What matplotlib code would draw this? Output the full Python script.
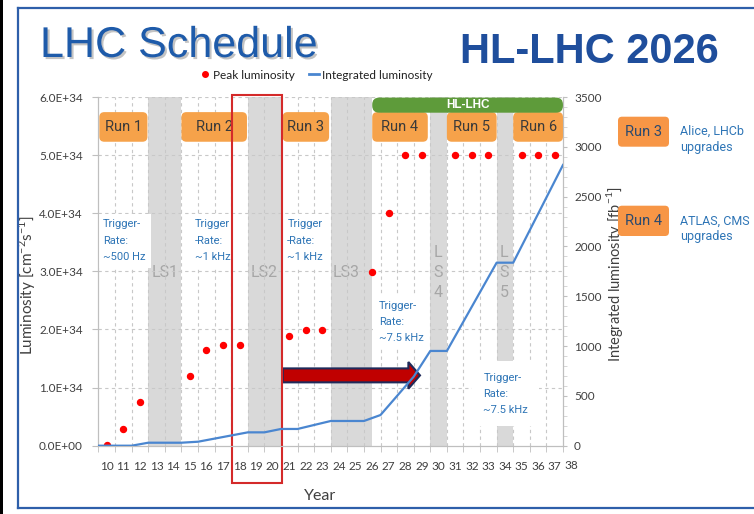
import numpy as np
import matplotlib.pyplot as plt
import matplotlib.patheffects as pe
from matplotlib.patches import FancyBboxPatch, Rectangle, FancyArrow
from matplotlib.lines import Line2D
from matplotlib.ticker import FuncFormatter, MultipleLocator

plt.rcParams['font.family'] = 'Lato'
plt.rcParams['mathtext.fontset'] = 'custom'
plt.rcParams['mathtext.rm'] = 'Lato'

# peak luminosity in units of 1e34 cm^-2 s^-1 (no dots in shutdown years)
peak_years = [10, 11, 12, 15, 16, 17, 18, 21, 22, 23, 26, 27, 28, 29, 31, 32, 33, 35, 36, 37]
peak_lumi = [0.02, 0.28, 0.76, 1.2, 1.64, 1.73, 1.73, 1.89, 1.99, 1.99,
             2.99, 4.0, 5.0, 5.0, 5.0, 5.0, 5.0, 5.0, 5.0, 5.0]

# integrated luminosity [fb^-1] at the year boundaries
int_x = [9.5, 11.5, 12.5, 14.5, 15.5, 18.5, 19.5, 20.5, 21.5, 23.5, 25.5,
         26.5, 27.5, 28.5, 29.5, 30.5, 33.5, 34.5, 37.5]
int_lumi = [0, 0, 30, 30, 40, 134, 134, 168, 168, 248, 248,
            308, 500, 693, 951, 951, 1837, 1837, 2818]

year_labels = list(range(10, 39))

# long shutdowns
ls_names = ["LS1", "LS2", "LS3", "L\nS\n4", "L\nS\n5"]
ls_start = [12.5, 18.5, 23.5, 29.5, 33.5]
ls_end = [14.5, 20.5, 26.0, 30.5, 34.5]
ls_text_x = [13.5, 19.5, 24.45, 29.95, 33.95]

# runs
run_names = ["Run 1", "Run 2", "Run 3", "Run 4", "Run 5", "Run 6"]
run_start = [9.55, 14.5, 20.6, 26.0, 30.5, 34.5]
run_end = [12.45, 18.45, 23.4, 29.35, 33.5, 37.5]

# trigger rate notes
trig_text = ["Trigger-\nRate:\n~500 Hz", "Trigger\n-Rate:\n~1 kHz", "Trigger\n-Rate:\n~1 kHz",
             "Trigger-\nRate:\n~7.5 kHz", "Trigger-\nRate:\n~7.5 kHz"]
trig_x = [9.78, 15.32, 20.88, 26.41, 32.7]
trig_y = [3.53, 3.53, 3.53, 2.13, 0.89]

orange = '#F6A24A'
blue_txt = '#2E75B6'
grey_txt = '#404040'

fig = plt.figure(figsize=(7.54, 5.14), dpi=100)
ax = fig.add_axes([0.12997, 0.13288, 0.61671, 0.67840])
ax.set_xlim(9.47, 37.5)
ax.set_ylim(0, 6)

# shutdown shading
for s, e in zip(ls_start, ls_end):
    ax.axvspan(s, e, color='#D9D9D9', zorder=1, lw=0)
for name, x in zip(ls_names, ls_text_x):
    ax.text(x, 2.98, name, ha='center', va='center', color='#A6A6A6',
            fontsize=11.5, family='Roboto', linespacing=1.42, zorder=2)

# grid
for gx in np.arange(10.5, 37.5, 1.0):
    ax.axvline(gx, color='#C8C8C8', lw=0.8, ls=(0, (3, 3)), zorder=2)
for gy in range(1, 7):
    ax.axhline(gy, color='#C8C8C8', lw=0.8, ls=(0, (3, 3)), zorder=2)

# peak luminosity dots
ax.plot(peak_years, peak_lumi, 'o', color='#FF0000', ms=4.3, ls='none', zorder=5)

# run boxes
asp = 16.59 / 58.1
for name, s, e in zip(run_names, run_start, run_end):
    ax.add_patch(FancyBboxPatch((s, 5.23), e - s, 0.51,
                                boxstyle='round,pad=0,rounding_size=0.3',
                                mutation_aspect=asp, fc=orange, ec='none', zorder=4))
    ax.text((s + e) / 2, 5.485, name, ha='center', va='center', fontsize=10.5,
            family='Roboto', color='#3A3A3A', zorder=5)

# HL-LHC bar
ax.add_patch(FancyBboxPatch((26.0, 5.73), 11.5, 0.26,
                            boxstyle='round,pad=0,rounding_size=0.42',
                            mutation_aspect=asp, fc='#5E9B3A', ec='none', zorder=4,
                            clip_on=False))
ax.text(31.78, 5.86, "HL-LHC", ha='center', va='center', color='white',
        fontsize=8.5, fontweight='bold', family='Liberation Sans', zorder=5)

# trigger rate notes
for i, (t, x, y) in enumerate(zip(trig_text, trig_x, trig_y)):
    ax.text(x, y, t, ha='left', va='center', color=blue_txt, fontsize=8,
            family='Roboto', linespacing=1.8, zorder=4,
            bbox=dict(fc='white', ec='none', pad=8 if i == 4 else 4))

# arrow
ax.add_patch(FancyArrow(20.61, 1.21, 8.27, 0, width=0.24, head_width=0.46,
                        head_length=0.7, length_includes_head=True,
                        fc='#C00000', ec='#1F2A5A', lw=1.5, zorder=6))

# red frame around LS2
ax.add_patch(Rectangle((17.53, -0.65), 20.58 - 17.53, 6.68, fill=False,
                       ec='#D42A2A', lw=1.5, clip_on=False, zorder=7))

# axes styling
ax.set_xticks(year_labels[:-1])
ax.set_xticklabels([str(y) for y in year_labels[:-1]])
ax.xaxis.set_minor_locator(MultipleLocator(1.0, offset=0.5))
ax.tick_params(axis='x', which='major', length=0, pad=11, labelsize=8.5, labelcolor=grey_txt)
ax.tick_params(axis='x', which='minor', length=4, color='#BFBFBF')
ax.text(year_labels[-1], -0.34, str(year_labels[-1]), ha='center', va='center',
        fontsize=8.5, color=grey_txt, clip_on=False)
ax.set_yticks(range(0, 7))
ax.yaxis.set_major_formatter(FuncFormatter(
    lambda v, p: "0.0E+00" if v == 0 else f"{v:.1f}E+34"))
ax.tick_params(axis='y', length=4, pad=7, labelsize=8.5, labelcolor=grey_txt, color='#BFBFBF')
ax.spines['top'].set_visible(False)
for sp in ['left', 'bottom', 'right']:
    ax.spines[sp].set_color('#BFBFBF')

ax.set_ylabel("Luminosity [cm$^{-2}$s$^{-1}$]", fontsize=11, color=grey_txt)
ax.yaxis.set_label_coords(-0.128, 0.461)
ax.set_xlabel("Year", fontsize=11.5, color=grey_txt)
ax.xaxis.set_label_coords(0.477, -0.125)

# integrated luminosity
ax2 = ax.twinx()
ax2.set_ylim(0, 3500)
ax2.plot(int_x, int_lumi, color='#4A86D0', lw=1.6, zorder=5)
ax2.set_yticks(range(0, 3501, 500))
ax2.yaxis.set_minor_locator(MultipleLocator(100))
ax2.tick_params(axis='y', which='major', length=3, pad=5, labelsize=8.5,
                labelcolor=grey_txt, color='#BFBFBF')
ax2.tick_params(axis='y', which='minor', length=3, color='#D0D0D0')
ax2.spines['top'].set_visible(False)
for sp in ['left', 'bottom', 'right']:
    ax2.spines[sp].set_color('#BFBFBF')
ax2.set_ylabel("Integrated luminosity [fb$^{-1}$]", fontsize=10.5, color=grey_txt)
ax2.yaxis.set_label_coords(1.088, 0.492)

# legend
handles = [Line2D([], [], marker='o', color='#FF0000', ls='none', ms=4),
           Line2D([], [], color='#4A86D0', lw=2)]
ax.legend(handles, ["Peak luminosity", "Integrated luminosity"], loc='center',
          bbox_to_anchor=(0.47, 1.063), ncol=2, frameon=False, fontsize=8.5,
          handlelength=0.8, handletextpad=0.3, columnspacing=1.2,
          labelcolor='#202020')

# slide decorations in pixel coordinates
ov = fig.add_axes([0, 0, 1, 1], zorder=10)
ov.set_xlim(0, 754)
ov.set_ylim(514, 0)
ov.axis('off')
ov.add_patch(Rectangle((0, 0), 3, 514, fc='black', ec='none'))
ov.plot([17.5, 17.5], [7.5, 508], color='#2E5FAA', lw=1.6)
ov.plot([17.5, 754], [7.5, 7.5], color='#2E5FAA', lw=1.6)
ov.plot([17.5, 754], [508, 508], color='#2E5FAA', lw=1.6)

ov.text(40, 57, "LHC Schedule", fontsize=31, color='#1E5BAA', family='Liberation Sans',
        va='baseline', ha='left',
        path_effects=[pe.withSimplePatchShadow(offset=(1.5, -1.5), shadow_rgbFace='#888888', alpha=0.5)])
ov.text(460, 63, "HL-LHC 2026", fontsize=30, color='#1F4E9C', family='Liberation Sans',
        fontweight='bold', va='baseline', ha='left')

side_y = [(116.7, 146.7), (205.7, 236.0)]
side_run = ["Run 3", "Run 4"]
side_txt = ["Alice, LHCb\nupgrades", "ATLAS, CMS\nupgrades"]
for (y0, y1), r, t in zip(side_y, side_run, side_txt):
    ov.add_patch(FancyBboxPatch((618, y0), 51, y1 - y0,
                                boxstyle='round,pad=0,rounding_size=4',
                                fc='#F79646', ec='none'))
    ov.text(643.5, (y0 + y1) / 2, r, ha='center', va='center', fontsize=10.5,
            family='Roboto', color='#2B4A6F')
    ov.text(680, (y0 + y1) / 2 + 8, t, ha='left', va='center', fontsize=9,
            family='Roboto', color=blue_txt, linespacing=1.3)

fig.savefig("out.png", dpi=100)
